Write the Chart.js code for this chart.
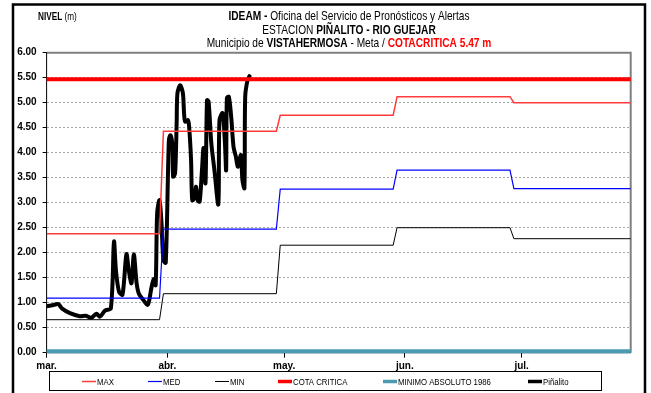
<!DOCTYPE html>
<html>
<head>
<meta charset="utf-8">
<script src="https://cdn.jsdelivr.net/npm/chart.js@4.4.1/dist/chart.umd.min.js"></script>
<style>html,body{margin:0;padding:0;background:#fff}</style>
</head>
<body>
<canvas id="nivel" width="651" height="393"></canvas>
<script>
// ── data (day 0 = 1 mar) ────────────────────────────────────────────────
const monthDays   = [0, 31, 61, 92, 122];
const monthLabels = ['mar.', 'abr.', 'may.', 'jun.', 'jul.'];
const stepDays    = [0, 30, 60, 90, 120];
const lastDay     = 150;
const maxLevels   = [2.38, 4.43, 4.75, 5.12, 5.00];
const medLevels   = [1.09, 2.47, 3.27, 3.65, 3.28];
const minLevels   = [0.66, 1.18, 2.15, 2.50, 2.28];
const cotaCritica = 5.47;
const minimoAbs   = 0.03;
const pinDays   = [0.0,1.5,3.0,4.0,6.0,8.5,10.0,11.5,12.8,13.7,15.0,16.5,17.3,17.8,18.6,19.5,20.5,21.1,21.8,22.4,
  23.1,23.7,24.8,26.0,26.9,27.5,28.0,28.4,29.0,29.5,30.0,30.6,31.4,31.8,32.3,32.5,33.0,33.4,33.6,34.3,
  35.0,35.3,35.6,36.3,36.6,37.1,37.4,38.0,38.4,38.8,39.3,39.9,40.3,40.8,41.2,41.6,42.3,43.1,44.1,44.4,
  45.2,45.8,46.1,46.3,46.8,47.4,48.0,48.6,49.1,49.5,49.9,50.3,50.8,51.0,51.6,52.1];
const pinLevels = [0.93,0.95,0.97,0.88,0.79,0.73,0.74,0.70,0.78,0.72,0.84,0.89,2.22,1.65,1.22,1.16,1.97,1.65,1.39,1.97,
  1.40,1.18,1.06,0.96,1.29,1.47,1.35,2.80,3.05,2.60,1.85,1.80,4.25,4.35,4.15,3.52,3.59,4.60,5.19,5.35,
  5.19,4.79,4.62,4.65,4.52,3.85,3.05,3.10,3.32,3.05,3.02,3.65,4.09,3.39,5.05,5.02,4.19,3.65,2.97,4.65,
  4.79,4.19,3.65,5.09,5.12,4.72,4.12,3.92,3.72,3.85,3.95,3.45,3.29,5.12,5.45,5.53];

// ── fonts ───────────────────────────────────────────────────────────────
const WIDE = "'Liberation Sans', Arial, sans-serif";
const NARROW_NAME = "'Liberation Sans Narrow'";
const probe = document.createElement('canvas').getContext('2d');
probe.font = "20px " + NARROW_NAME + ", monospace";
const wN = probe.measureText('MINIMO ABSOLUTO').width;
probe.font = "20px monospace";
const hasNarrow = Math.abs(wN - probe.measureText('MINIMO ABSOLUTO').width) > 0.5;
const NARROW = hasNarrow ? NARROW_NAME + ", " + WIDE : WIDE;
const SQUEEZE = hasNarrow ? 1 : 0.82;

function steps(levels) {
  const pts = [];
  levels.forEach((v, i) => {
    const end = i < levels.length - 1 ? stepDays[i + 1] - 1 : lastDay;
    pts.push({ x: stepDays[i], y: v }, { x: end, y: v });
  });
  return pts;
}
const flat = v => [{ x: 0, y: v }, { x: lastDay, y: v }];

// draw a line of mixed text segments, centred (or left) at x
function drawSegs(ctx, segs, x, y, size, align) {
  ctx.save();
  ctx.textBaseline = 'middle';
  ctx.textAlign = 'left';
  let total = 0;
  segs.forEach(s => { ctx.font = (s.bold ? 'bold ' : '') + size + 'px ' + NARROW; total += ctx.measureText(s.t).width; });
  ctx.translate(x, y);
  ctx.scale(SQUEEZE, 1);
  let cx = align === 'left' ? 0 : -total / 2;
  segs.forEach(s => {
    ctx.font = (s.bold ? 'bold ' : '') + size + 'px ' + NARROW;
    ctx.fillStyle = s.c || '#000';
    ctx.fillText(s.t, cx, 0);
    cx += ctx.measureText(s.t).width;
  });
  ctx.restore();
}

const frame = {
  id: 'frame',
  beforeDatasetsDraw(chart) {
    const { ctx, chartArea: a } = chart;
    ctx.save();
    ctx.strokeStyle = '#7f7f7f'; ctx.lineWidth = 2;
    ctx.beginPath();
    ctx.moveTo(a.left, a.top); ctx.lineTo(a.right, a.top); ctx.lineTo(a.right, a.bottom);
    ctx.stroke();
    ctx.strokeStyle = '#000'; ctx.lineWidth = 1;
    ctx.beginPath();
    ctx.moveTo(a.left, a.top); ctx.lineTo(a.left, a.bottom); ctx.lineTo(a.right, a.bottom);
    ctx.stroke();
    ctx.restore();
  },
  afterDraw(chart) {
    const { ctx } = chart;
    ctx.save();
    // outer black frame
    ctx.strokeStyle = '#000'; ctx.lineWidth = 2.5;
    ctx.beginPath();
    ctx.moveTo(13, 400); ctx.lineTo(13, 4.5); ctx.lineTo(645, 4.5); ctx.lineTo(645, 400);
    ctx.stroke();
    ctx.restore();

    drawSegs(ctx, [{ t: 'NIVEL', bold: true }, { t: ' (m)' }], 38, 17, 10, 'left');
    drawSegs(ctx, [{ t: 'IDEAM - ', bold: true }, { t: 'Oficina del Servicio de Pronósticos y Alertas' }], 349, 17, 12.4);
    drawSegs(ctx, [{ t: 'ESTACION ' }, { t: 'PIÑALITO - RIO GUEJAR', bold: true }], 349, 30.5, 12.4);
    drawSegs(ctx, [{ t: 'Municipio de ' }, { t: 'VISTAHERMOSA', bold: true }, { t: ' - Meta / ' },
      { t: 'COTACRITICA 5.47 m', bold: true, c: '#ff0000' }], 349, 43.5, 12.4);

    // legend
    ctx.save();
    ctx.strokeStyle = '#000'; ctx.lineWidth = 1;
    ctx.strokeRect(49.5, 371.5, 552, 19);
    const xs = [82, 148, 215, 278, 383, 528];
    chart.data.datasets.forEach((ds, i) => {
      ctx.strokeStyle = ds.borderColor;
      ctx.lineWidth = Math.min(ds.borderWidth, 3.5);
      ctx.beginPath(); ctx.moveTo(xs[i], 381.5); ctx.lineTo(xs[i] + 14, 381.5); ctx.stroke();
      drawSegs(ctx, [{ t: ds.label }], xs[i] + 15, 382, 9.5, 'left');
    });
    ctx.restore();
  }
};

new Chart(document.getElementById('nivel'), {
  type: 'line',
  data: {
    datasets: [
      { label: 'MAX', data: steps(maxLevels), borderColor: '#ff3b3b', borderWidth: 1.5 },
      { label: 'MED', data: steps(medLevels), borderColor: '#0000ff', borderWidth: 1.2 },
      { label: 'MIN', data: steps(minLevels), borderColor: '#000000', borderWidth: 1 },
      { label: 'COTA CRITICA', data: flat(cotaCritica), borderColor: '#ff0000', borderWidth: 4, clip: false },
      { label: 'MINIMO ABSOLUTO 1986', data: flat(minimoAbs), borderColor: '#4a9bb2', borderWidth: 4, clip: false },
      { label: 'Piñalito', data: pinDays.map((d, i) => ({ x: d, y: pinLevels[i] })), borderColor: '#000000',
        borderWidth: 4, tension: 0.3, borderJoinStyle: 'round', borderCapStyle: 'round' }
    ]
  },
  options: {
    responsive: false,
    animation: false,
    layout: { padding: { left: 0, top: 52.7, right: 20.3, bottom: 0 } },
    elements: { point: { radius: 0 }, line: { tension: 0 } },
    plugins: { legend: { display: false }, tooltip: { enabled: false } },
    scales: {
      x: {
        type: 'linear', min: 0, max: lastDay,
        afterBuildTicks: s => { s.ticks = monthDays.map(v => ({ value: v })); },
        afterFit: s => { s.height = 40.3; },
        grid: { drawOnChartArea: false, drawTicks: true, tickLength: 5, tickColor: '#000', tickWidth: 1 },
        border: { display: false },
        ticks: {
          autoSkip: false, maxRotation: 0, padding: 3, color: '#000',
          font: { family: WIDE, size: 10, weight: 'bold' },
          callback: v => monthLabels[monthDays.indexOf(v)]
        }
      },
      y: {
        min: 0, max: 6,
        afterFit: s => { s.width = 46.6; },
        grid: { color: '#a6a6a6', lineWidth: 1, tickLength: 4, tickColor: '#000', tickBorderDash: [], tickWidth: 1 },
        border: { display: false, dash: [2, 2] },
        ticks: {
          stepSize: 0.5, padding: 6, color: '#000',
          font: { family: WIDE, size: 10, weight: 'bold' },
          callback: v => v.toFixed(2)
        }
      }
    }
  },
  plugins: [frame]
});
</script>
</body>
</html>
